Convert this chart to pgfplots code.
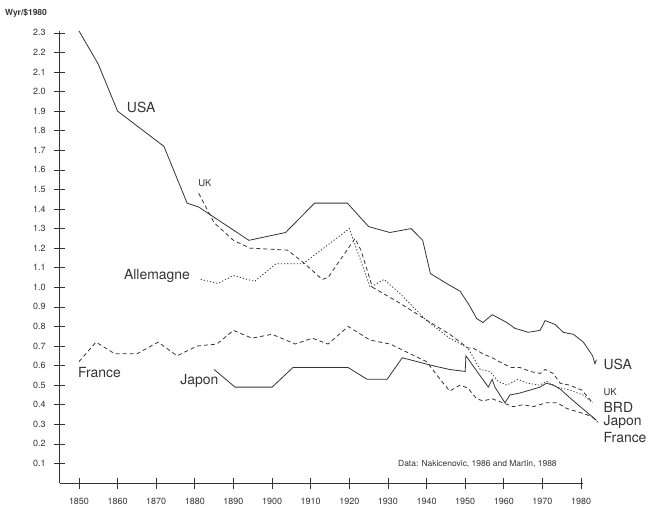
\documentclass[border=0pt]{standalone}
\usepackage{fontspec}
\setmainfont{TeX Gyre Heros}
\usepackage{pgfplots}
\pgfplotsset{compat=1.18}
\definecolor{ink}{gray}{0.2}
\begin{document}
\begin{tikzpicture}
\begin{axis}[
  scale only axis,
  width=523.3bp, height=452.1bp,
  xmin=1845, xmax=1980.5, ymin=0, ymax=2.31,
  clip=false,
  axis x line=bottom, axis y line=left,
  axis line style={-, draw=ink, line width=0.7pt},
  tick style={draw=ink, line width=0.7pt},
  tick align=center,
  major tick length=11bp,
  xtick={1850,1860,...,1980},
  ytick={0.1,0.2,0.3,0.4,0.5,0.6,0.7,0.8,0.9,1.0,1.1,1.2,1.3,1.4,1.5,1.6,1.7,1.8,1.9,2.0,2.1,2.2,2.3},
  /pgf/number format/assume math mode=true,
  xticklabel style={font=\fontsize{9}{10}\selectfont, text=ink, yshift=-6bp, /pgf/number format/1000 sep={}},
  yticklabel style={font=\fontsize{9}{10}\selectfont, text=ink, xshift=-5bp, /pgf/number format/fixed, /pgf/number format/fixed zerofill, /pgf/number format/precision=1},
]
% USA
\addplot[ink, line width=0.8pt] coordinates {
(1850,2.31) (1855,2.14) (1860,1.90) (1872,1.72) (1878,1.43) (1881,1.41)
(1894,1.24) (1903.5,1.28) (1911,1.43) (1914,1.43) (1919.5,1.43) (1925,1.31)
(1930.5,1.28) (1936,1.30) (1939,1.24) (1941,1.07) (1946,1.01) (1948.7,0.98)
(1951,0.91) (1953,0.84) (1954.6,0.82) (1957,0.86) (1960.8,0.82) (1962.9,0.79)
(1964.7,0.78) (1966.3,0.77) (1969.4,0.78) (1970.7,0.83) (1973.3,0.81)
(1975.4,0.77) (1978,0.76) (1980.6,0.72) (1983,0.65) (1983.6,0.61) (1984,0.63)
};
% UK
\addplot[ink, line width=0.8pt, dash pattern=on 4bp off 3bp] coordinates {
(1881,1.48) (1885,1.33) (1890,1.24) (1894.3,1.20) (1904,1.19) (1908.5,1.12)
(1913,1.04) (1914.5,1.05) (1921.5,1.25) (1923,1.19) (1926,1.00) (1933,0.92)
(1941,0.82) (1946,0.76) (1950.7,0.69) (1952,0.69) (1954.6,0.66) (1957,0.64)
(1959.8,0.61) (1962,0.59) (1964.2,0.59) (1966.8,0.57) (1969.4,0.56) (1970.7,0.58)
(1972.8,0.56) (1974.6,0.51) (1977,0.50) (1980.2,0.475) (1983,0.41)
};
% BRD / Allemagne
\addplot[ink, line width=0.8pt, dash pattern=on 1.2bp off 2bp] coordinates {
(1881.5,1.04) (1886,1.02) (1890,1.06) (1895.5,1.03) (1901,1.12) (1908,1.12)
(1920,1.30) (1925.4,1.00) (1929,1.04) (1933,0.97) (1940,0.83) (1946,0.74)
(1950.7,0.69) (1953.9,0.58) (1956.4,0.57) (1958.5,0.52) (1960.8,0.50)
(1963.7,0.53) (1966,0.51) (1969.4,0.50) (1971,0.52) (1973.8,0.49) (1977,0.475)
(1980.5,0.45) (1983,0.41)
};
% Japon
\addplot[ink, line width=0.8pt] coordinates {
(1885,0.58) (1890.4,0.49) (1900,0.49) (1905.4,0.59) (1919.7,0.59) (1924.6,0.53)
(1929.8,0.53) (1933.7,0.64) (1941.5,0.60) (1946,0.58) (1950,0.57) (1950.2,0.65)
(1952,0.60) (1953.8,0.55) (1956,0.49) (1957,0.53) (1957.7,0.49) (1960.3,0.41)
(1961.6,0.45) (1964.2,0.46) (1966.8,0.475) (1969.4,0.49) (1971,0.51)
(1972.8,0.50) (1974.6,0.48) (1978,0.42) (1981.6,0.36) (1984,0.32)
};
% France
\addplot[ink, line width=0.8pt, dash pattern=on 4bp off 3bp] coordinates {
(1850,0.62) (1854.4,0.72) (1859.3,0.66) (1865,0.66) (1870.5,0.72) (1875.4,0.65)
(1880.6,0.70) (1885.7,0.71) (1890,0.78) (1894.8,0.74) (1900,0.76) (1906,0.71)
(1910.4,0.74) (1914.5,0.71) (1919.7,0.80) (1925.4,0.73) (1930.6,0.71)
(1940,0.62) (1943.5,0.53) (1946,0.47) (1948.7,0.50) (1950.7,0.485) (1953,0.43)
(1954.6,0.42) (1957,0.43) (1959.8,0.41) (1962.4,0.39) (1965,0.40) (1967.6,0.39)
(1971,0.41) (1973.8,0.41) (1976.4,0.38) (1979.8,0.36) (1982.8,0.34) (1984.4,0.31)
};
% labels
\path (axis cs:1829.55,-0.112) rectangle (axis cs:1997.6,2.468);
\node[anchor=west, inner sep=0pt, text=ink, font=\fontsize{8.5}{9}\selectfont\bfseries] at (axis cs:1830.8,2.40) {Wyr/\$1980};
\node[text=ink, inner sep=0pt, font=\fontsize{14}{15}\selectfont] at (axis cs:1866.1,1.92) {USA};
\node[text=ink, inner sep=0pt, font=\fontsize{9.5}{10}\selectfont] at (axis cs:1882.6,1.53) {UK};
\node[text=ink, inner sep=0pt, font=\fontsize{14}{15}\selectfont] at (axis cs:1870.2,1.06) {Allemagne};
\node[text=ink, inner sep=0pt, font=\fontsize{14}{15}\selectfont] at (axis cs:1855.3,0.567) {France};
\node[text=ink, inner sep=0pt, font=\fontsize{14}{15}\selectfont] at (axis cs:1881.2,0.52) {Japon};
\node[anchor=west, text=ink, inner sep=0pt, font=\fontsize{14}{15}\selectfont] at (axis cs:1985.8,0.608) {USA};
\node[anchor=west, text=ink, inner sep=0pt, font=\fontsize{9.5}{10}\selectfont] at (axis cs:1985.8,0.465) {UK};
\node[anchor=west, text=ink, inner sep=0pt, font=\fontsize{14}{15}\selectfont] at (axis cs:1985.8,0.388) {BRD};
\node[anchor=west, text=ink, inner sep=0pt, font=\fontsize{14}{15}\selectfont] at (axis cs:1985.8,0.31) {Japon};
\node[anchor=west, text=ink, inner sep=0pt, font=\fontsize{14}{15}\selectfont] at (axis cs:1985.8,0.232) {France};
\node[anchor=west, text=ink, inner sep=0pt, font=\fontsize{8.5}{9}\selectfont] at (axis cs:1932.6,0.097) {Data: Nakicenovic, 1986 and Martin, 1988};
\end{axis}
\end{tikzpicture}
\end{document}
